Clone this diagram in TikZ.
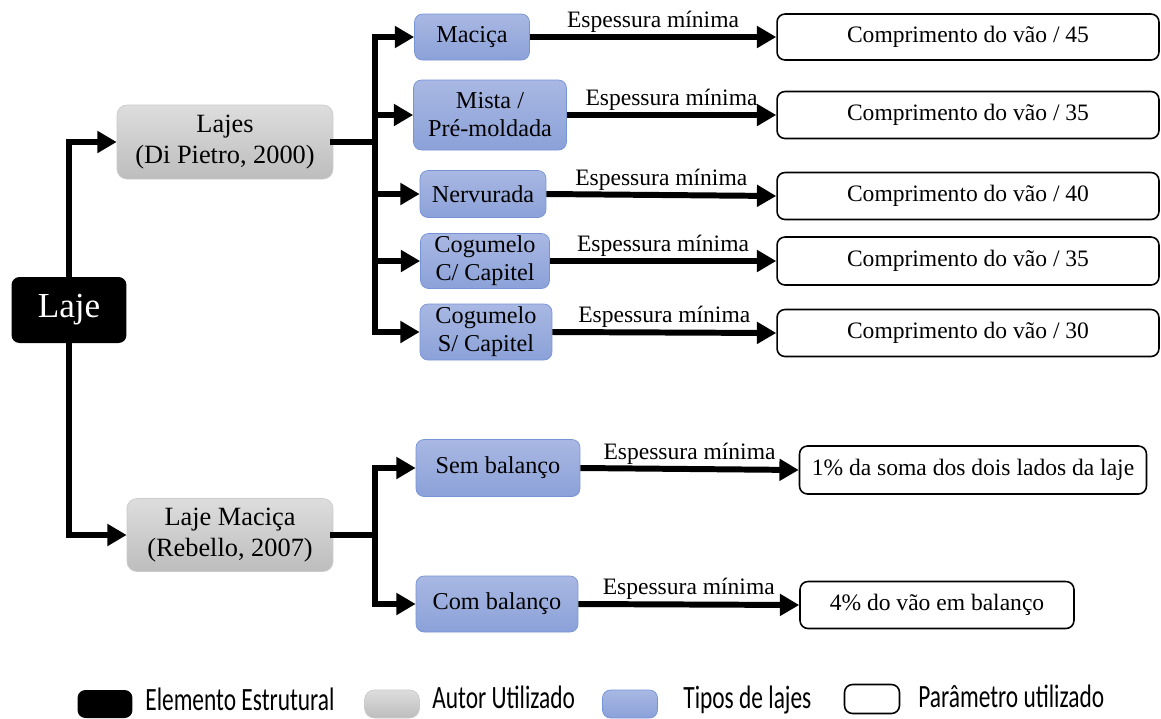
\documentclass[tikz,border=0pt]{standalone}
\usepackage{fontspec}
\setmainfont{Liberation Serif}
\newfontfamily\legfont[FakeStretch=0.72]{Carlito}
\usetikzlibrary{arrows.meta}
\definecolor{cinzaA}{HTML}{DDDDDD}
\definecolor{cinzaB}{HTML}{BDBDBD}
\definecolor{azulA}{HTML}{A9B8E3}
\definecolor{azulB}{HTML}{8BA1D8}
\definecolor{azulC}{HTML}{7594D6}

\begin{document}
\begin{tikzpicture}[x=0.02cm,y=-0.02cm]
			\tikzstyle{every node}=[font=\fontsize{13.4}{15.5}\selectfont, align=center, inner sep=0pt]
			\tikzstyle{elem}=[rectangle, rounded corners=0.16cm, fill=black, text=white, font=\fontsize{20}{23}\selectfont]
			\tikzstyle{autor}=[rectangle, rounded corners=0.2cm, draw=cinzaB!80, top color=cinzaA, bottom color=cinzaB, font=\fontsize{15}{17.5}\selectfont]
			\tikzstyle{tipo}=[rectangle, rounded corners=0.16cm, draw=azulC, top color=azulA, bottom color=azulB, font=\fontsize{13.8}{16}\selectfont]
			\tikzstyle{param}=[rectangle, rounded corners=0.16cm, draw, line width=0.9pt]
			\tikzstyle{seta}=[line width=3.4pt, line join=miter, -{Triangle[length=11pt,width=12pt]}]
			\tikzstyle{linha}=[line width=3.4pt, line cap=rect]
			\tikzstyle{esp}=[midway, above=1pt]
			\tikzstyle{leg}=[anchor=base west, font=\legfont\fontsize{18.5}{21}\selectfont]
			\useasboundingbox (0,0) rectangle (1161,718);
			
			\node[elem, minimum width=2.3cm, minimum height=1.32cm] (laje) at (69,310) {Laje};
			\node[autor, minimum width=4.32cm, minimum height=1.48cm] (dipietro) at (225,142) {Lajes\\(Di Pietro, 2000)};
			\node[autor, minimum width=4.12cm, minimum height=1.46cm] (rebello) at (230,535) {Laje Maciça\\(Rebello, 2007)};
			
			\node[tipo, minimum width=2.3cm, minimum height=0.92cm] (macica) at (472,37) {Maciça};
			\node[tipo, minimum width=3.06cm, minimum height=1.4cm] (mista) at (490,115) {Mista /\\Pré-moldada};
			\node[tipo, minimum width=2.52cm, minimum height=0.94cm] (nerv) at (483,194) {Nervurada};
			\node[tipo, minimum width=2.58cm, minimum height=1.1cm] (cogc) at (485,261) {Cogumelo\\C/ Capitel};
			\node[tipo, minimum width=2.64cm, minimum height=1.12cm] (cogs) at (486,332) {Cogumelo\\S/ Capitel};
			\node[tipo, minimum width=3.28cm, minimum height=1.14cm] (sem) at (498,468) {Sem balanço};
			\node[tipo, minimum width=3.24cm, minimum height=1.12cm] (com) at (497,604) {Com balanço};
			
			\node[param, minimum width=7.64cm, minimum height=0.92cm] (p45) at (968,37) {Comprimento do vão / 45};
			\node[param, minimum width=7.64cm, minimum height=0.94cm] (p35a) at (968,115) {Comprimento do vão / 35};
			\node[param, minimum width=7.64cm, minimum height=0.94cm] (p40) at (968,196) {Comprimento do vão / 40};
			\node[param, minimum width=7.64cm, minimum height=0.96cm] (p35b) at (968,261) {Comprimento do vão / 35};
			\node[param, minimum width=7.64cm, minimum height=0.94cm] (p30) at (968,333) {Comprimento do vão / 30};
			\node[param, minimum width=6.94cm, minimum height=0.96cm] (soma) at (973,470) {1\% da soma dos dois lados da laje};
			\node[param, minimum width=5.48cm, minimum height=0.94cm] (vao) at (937,605) {4\% do vão em balanço};
			
			% tronco
			\draw[seta] (laje.north) |- (dipietro.west);
			\draw[seta] (laje.south) |- (rebello.west);
			
			% Di Pietro
			\coordinate (r1) at (375,142);
			\draw[linha] (dipietro.east) -- (r1);
			\draw[linha] (r1 |- macica.west) -- (r1 |- cogs.west);
			\foreach \t in {macica,mista,nerv,cogc,cogs}
				\draw[seta] (r1 |- \t.west) -- (\t.west);
			
			% Rebello
			\coordinate (r2) at (375,535);
			\draw[linha] (rebello.east) -- (r2);
			\draw[linha] (r2 |- sem.west) -- (r2 |- com.west);
			\foreach \t in {sem,com}
				\draw[seta] (r2 |- \t.west) -- (\t.west);
			
			% espessura minima
			\foreach \a/\b in {macica/p45,mista/p35a,nerv/p40,cogc/p35b,cogs/p30,sem/soma,com/vao}
				\draw[seta] (\a.east) -- (\b.west) node[esp] {Espessura mínima};
			
			% legenda
			\node[elem, minimum width=1.1cm, minimum height=0.56cm] (lg1) at (105,704) {};
			\node[autor, minimum width=1.1cm, minimum height=0.56cm] (lg2) at (392,704) {};
			\node[tipo, minimum width=1.1cm, minimum height=0.56cm] (lg3) at (630,704) {};
			\node[param, minimum width=1.1cm, minimum height=0.58cm] (lg4) at (872,699) {};
			\node[leg] (tx1) at (145,710) {Elemento Estrutural};
			\node[leg] (tx2) at (432,708) {Autor Utilizado};
			\node[leg] (tx3) at (683,708) {Tipos de lajes};
			\node[leg] (tx4) at (918,707) {Parâmetro utilizado};
\end{tikzpicture}
\end{document}
